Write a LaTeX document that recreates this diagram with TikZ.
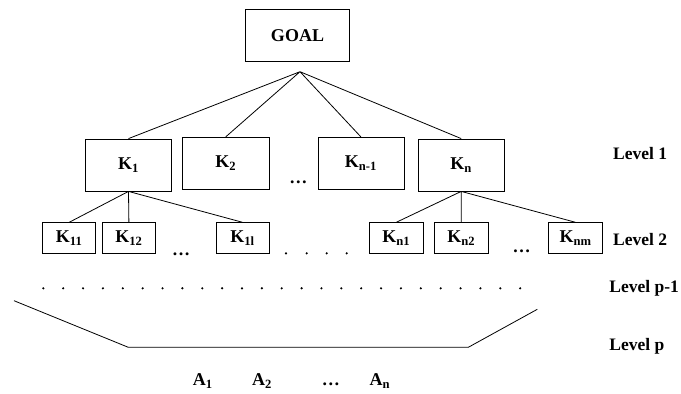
\documentclass[tikz,border=0pt]{standalone}
\usepackage{fontspec}
\setmainfont{Liberation Serif}
\begin{document}
\begin{tikzpicture}[x=1pt, y=-1pt, line width=0.8pt,
    every node/.style={font=\bfseries\fontsize{18}{21}\selectfont, inner sep=0pt},
    bigbox/.style={draw, minimum width=86pt, minimum height=52pt},
    smallbox/.style={draw, minimum width=54pt, minimum height=30.6pt},
    levellabel/.style={anchor=west, font=\bfseries\fontsize{17.5}{21}\selectfont}]
  \useasboundingbox (0,0) rectangle (681,394);
  % goal
  \node[draw, minimum width=103.6pt, minimum height=52pt] (goal) at (297.5,35.3) {GOAL};
  \coordinate (top) at (300,71.7);
  % level 1
  \node[bigbox] (K1) at (128.5,165) {K\textsubscript{1}};
  \node[bigbox, minimum width=86.7pt] (K2) at (225.7,163.3) {K\textsubscript{2}};
  \node (dots1) at (298.3,182.3) {…};
  \node[bigbox] (Kn1x) at (360.9,163.3) {K\textsubscript{n-1}};
  \node[bigbox] (Kn) at (461.2,165) {K\textsubscript{n}};
  \draw (top) -- (K1.north) (top) -- (K2.north) (top) -- (Kn1x.north) (top) -- (Kn.north);
  % level 2
  \node[smallbox, minimum width=53pt] (K11) at (69.2,238) {K\textsubscript{11}};
  \node[smallbox, minimum width=53.7pt] (K12) at (128.9,238) {K\textsubscript{12}};
  \node (dots2) at (181,254) {…};
  \node[smallbox, minimum width=53pt] (K1l) at (242.5,238) {K\textsubscript{1l}};
  \node[smallbox] (Kna) at (396.3,238) {K\textsubscript{n1}};
  \node[smallbox] (Knb) at (461.3,238) {K\textsubscript{n2}};
  \node (dots3) at (521.7,251.7) {…};
  \node[smallbox, minimum width=53.6pt] (Knm) at (575.5,238) {K\textsubscript{nm}};
  \draw (K1.south) -- (K11.north) (K1.south) -- (K12.north) (K1.south) -- (K1l.north);
  \draw (Kn.south) -- (Kna.north) (Kn.south) -- (Knb.north) (Kn.south) -- (Knm.north);
  \foreach \x in {286,306.7,326.7,346.7}
    \fill (\x,253.3) circle (1.2pt);
  % level p-1 and p
  \foreach \i in {0,...,24}
    \fill (43.3+19.87*\i,288.3) circle (1.2pt);
  \draw (14,300.7) -- (128.3,347.3) -- (468.3,347.3) -- (537.3,309.3);
  % alternatives
  \node[anchor=base] (A1) at (202.8,385.5) {A\textsubscript{1}};
  \node[anchor=base] (A2) at (262,385.5) {A\textsubscript{2}};
  \node[anchor=base] (dots4) at (330.8,385.5) {…};
  \node[anchor=base] (An) at (380,385.5) {A\textsubscript{n}};
  % levels
  \node[levellabel] (lev1) at (612.7,153.3) {Level 1};
  \node[levellabel] (lev2) at (612.7,240) {Level 2};
  \node[levellabel] (levp1) at (609,288) {Level p-1};
  \node[levellabel] (levp) at (609,346) {Level p};
\end{tikzpicture}
\end{document}
